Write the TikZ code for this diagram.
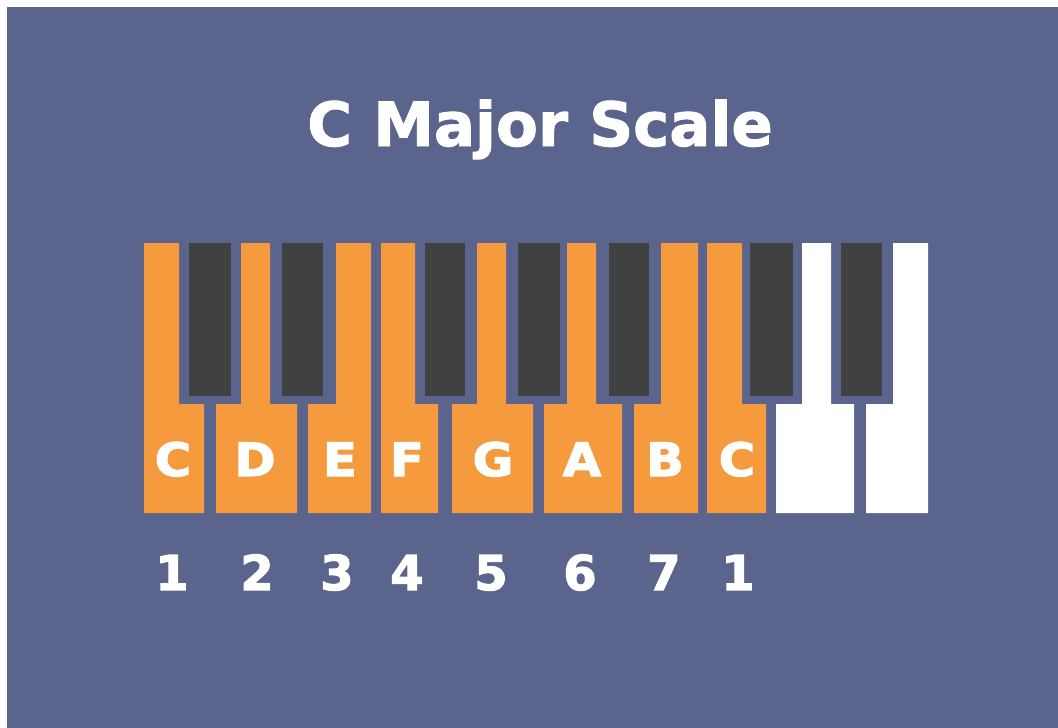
\documentclass[tikz,border=0pt]{standalone}
\usepackage{fontspec}
\setmainfont{DejaVu Sans}
\newfontfamily\heavyfont{DejaVu Sans}[BoldFeatures={FakeBold=1.6}]
\newfontfamily\heavierfont{DejaVu Sans}[BoldFeatures={FakeBold=2.4}]
\definecolor{bgblue}{HTML}{5B648C}
\definecolor{keyorange}{HTML}{F59B3D}
\definecolor{keyblack}{HTML}{414141}
\tikzset{
  orangekey/.style={fill=keyorange},
  plainkey/.style={fill=white},
  blackkey/.style={fill=keyblack},
  keylabel/.style={text=white, anchor=base, inner sep=0pt, font=\heavierfont\fontsize{46}{46}\selectfont\bfseries, xscale=1.08},
  degree/.style={text=white, anchor=base, inner sep=0pt, font=\heavierfont\fontsize{48}{48}\selectfont\bfseries},
  titletext/.style={text=white, anchor=base, inner sep=0pt, font=\heavyfont\fontsize{61}{61}\selectfont\bfseries}
}
% #1 style, #2 top-left x, #3 top-right x, #4 bottom-left x, #5 bottom-right x
\newcommand\pianowkey[5]{%
  \fill[#1] (#4,513) -- (#4,404) -- (#2,404) -- (#2,243) -- (#3,243) -- (#3,404) -- (#5,404) -- (#5,513) -- cycle;}
\newcommand\pianobkey[2]{%
  \fill[blackkey] (#1,243) rectangle (#2,396);}
\begin{document}
\begin{tikzpicture}[x=1pt,y=-1pt]
  \useasboundingbox (0,0) rectangle (1058,728);
  \fill[white] (0,0) rectangle (1058,728);
  \fill[bgblue] (7,7) rectangle (1058,728);
  % white keys
  \pianowkey{orangekey}{144}{179}{144}{204}
  \pianowkey{orangekey}{241}{270}{216}{297}
  \pianowkey{orangekey}{336}{371}{308}{371}
  \pianowkey{orangekey}{381}{415}{381}{438}
  \pianowkey{orangekey}{477}{506}{452}{533}
  \pianowkey{orangekey}{567}{596}{544}{622}
  \pianowkey{orangekey}{661}{698}{634}{698}
  \pianowkey{orangekey}{707}{742}{707}{766}
  \pianowkey{plainkey}{802}{831}{776}{854}
  \pianowkey{plainkey}{893}{928}{866}{928}
  % black keys
  \pianobkey{189}{231}
  \pianobkey{282}{323}
  \pianobkey{425}{465}
  \pianobkey{518}{560}
  \pianobkey{609}{649}
  \pianobkey{750}{793}
  \pianobkey{841}{882}
  % title
  \node[titletext] (title) at (540,146) {C Major Scale};
  % note names
  \node[keylabel] (nC)  at (173,476) {C};
  \node[keylabel] (nD)  at (255,476) {D};
  \node[keylabel] (nE)  at (340,476) {E};
  \node[keylabel] (nF)  at (407,476) {F};
  \node[keylabel] (nG)  at (493,476) {G};
  \node[keylabel] (nA)  at (582,476) {A};
  \node[keylabel] (nB)  at (665,476) {B};
  \node[keylabel] (nC2) at (737,476) {C};
  % scale degrees
  \node[degree] (d1) at (172,590) {1};
  \node[degree] (d2) at (257,590) {2};
  \node[degree] (d3) at (337,590) {3};
  \node[degree] (d4) at (407,590) {4};
  \node[degree] (d5) at (491,590) {5};
  \node[degree] (d6) at (580,590) {6};
  \node[degree] (d7) at (664,590) {7};
  \node[degree] (d8) at (738,590) {1};
\end{tikzpicture}
\end{document}
